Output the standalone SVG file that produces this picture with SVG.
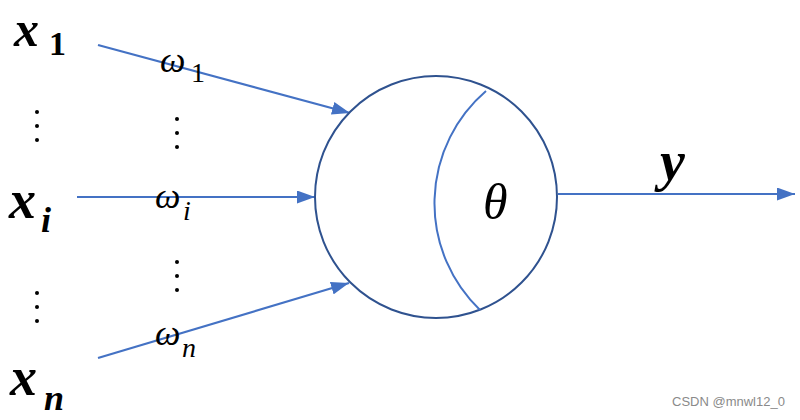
<svg xmlns="http://www.w3.org/2000/svg" width="800" height="420" viewBox="0 0 800 420">
<defs>
<marker id="ah" viewBox="0 0 10 10" refX="10" refY="5" markerWidth="18" markerHeight="13" markerUnits="userSpaceOnUse" orient="auto" preserveAspectRatio="none">
<path d="M0,0 L10,5 L0,10 z" fill="#4472C4"/>
</marker>
<style>
.edge{stroke:#4472C4;stroke-width:2.2;fill:none;marker-end:url(#ah)}
.xv{font-family:"Liberation Serif","Times New Roman",serif;font-weight:bold;font-style:italic;fill:#000}
.sub{font-family:"Liberation Serif","Times New Roman",serif;font-weight:bold;fill:#000}
.w{font-family:"Liberation Serif","Times New Roman",serif;font-style:italic;fill:#000}
.wn{font-family:"Liberation Serif","Times New Roman",serif;fill:#000}
.dot{fill:#000}
</style>
</defs>
<rect width="800" height="420" fill="#fff"/>
<g id="connectors">
<line class="edge" x1="98" y1="45" x2="350" y2="113"/>
<line class="edge" x1="77" y1="197" x2="315" y2="197"/>
<line class="edge" x1="98" y1="358" x2="349" y2="283"/>
<line class="edge" x1="558" y1="194" x2="795" y2="194"/>
</g>
<g id="neuron">
<circle cx="436" cy="197" r="121" fill="#fff" stroke="#2F528F" stroke-width="2"/>
<path d="M486,91 A148,148 0 0 0 480,310" fill="none" stroke="#4472C4" stroke-width="2"/>
<text class="w" x="483" y="219" font-size="50">θ</text>
</g>
<g id="x1">
<text class="xv" x="14" y="46" font-size="50">x</text>
<text class="sub" x="49" y="55" font-size="34">1</text>
</g>
<g id="xi">
<text class="xv" x="9" y="218" font-size="54">x</text>
<text class="xv" x="41" y="232" font-size="36">i</text>
</g>
<g id="xn">
<text class="xv" x="10" y="395" font-size="54">x</text>
<text class="xv" x="44" y="410" font-size="36">n</text>
</g>
<g id="y">
<text class="xv" x="660" y="180" font-size="56">y</text>
</g>
<g id="weights">
<text class="w" x="160" y="72" font-size="36">ω</text>
<text class="wn" x="191" y="82" font-size="28">1</text>
<text class="w" x="155" y="208" font-size="36">ω</text>
<text class="w" x="183" y="220" font-size="28">i</text>
<text class="w" x="155" y="345" font-size="36">ω</text>
<text class="w" x="182" y="357" font-size="28">n</text>
</g>
<g id="ellipses">
<circle class="dot" cx="37" cy="112" r="2"/><circle class="dot" cx="37" cy="126" r="2"/><circle class="dot" cx="37" cy="140" r="2"/>
<circle class="dot" cx="177" cy="119" r="2"/><circle class="dot" cx="177" cy="133" r="2"/><circle class="dot" cx="177" cy="147" r="2"/>
<circle class="dot" cx="177" cy="262" r="2"/><circle class="dot" cx="177" cy="276" r="2"/><circle class="dot" cx="177" cy="290" r="2"/>
<circle class="dot" cx="37" cy="293" r="2"/><circle class="dot" cx="37" cy="307" r="2"/><circle class="dot" cx="37" cy="321" r="2"/>
</g>
<text x="672" y="406" font-family="Liberation Sans, Arial, sans-serif" font-size="13" fill="#8a8a8a">CSDN @mnwl12_0</text>
</svg>
